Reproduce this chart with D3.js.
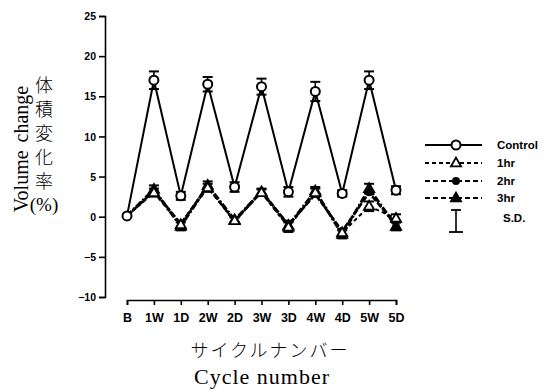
<!DOCTYPE html>
<html>
<head>
<meta charset="utf-8">
<script src="https://cdn.jsdelivr.net/npm/d3@7"></script>
<style>
    body { margin: 0; background: #fff; }
    svg { display: block; }
    .tick text { font-family: "Liberation Sans", Arial, sans-serif; font-weight: bold; }
</style>
</head>
<body>
<svg id="chart" width="545" height="392"></svg>
<script>
// cycle labels on the x axis
var cycles = ["B", "1W", "1D", "2W", "2D", "3W", "3D", "4W", "4D", "5W", "5D"];
var yTicks = [25, 20, 15, 10, 5, 0, -5, -10];

// volume change (%)
var control = [0.1, 17.0, 2.6, 16.5, 3.7, 16.2, 3.1, 15.6, 2.9, 17.0, 3.3];
var controlSD = [0, 1.1, 0.5, 0.9, 0.6, 1.0, 0.6, 1.2, 0.4, 1.1, 0.5];
var oneHr = [0.1, 3.0, -1.0, 3.6, -0.5, 3.0, -1.3, 3.0, -2.0, 1.3, -0.2];
var twoHr = [0.1, 3.2, -0.9, 3.8, -0.6, 3.2, -1.0, 2.8, -1.8, 3.0, -1.0];
var threeHr = [0.1, 3.4, -1.2, 3.9, -0.4, 3.1, -1.1, 3.2, -2.2, 3.5, -1.2];
var treatSD = [0, 0.5, 0.5, 0.5, 0.4, 0.4, 0.6, 0.5, 0.5, 0.6, 0.5];

var legendLabels = ["Control", "1hr", "2hr", "3hr", "S.D."];

var svg = d3.select("#chart");

var x = d3.scalePoint().domain(cycles).range([127, 396]);
var y = d3.scaleLinear().domain([-10, 25]).range([297, 16]);

// y axis
var yAxis = svg.append("g")
    .attr("transform", "translate(105,0)")
    .call(d3.axisLeft(y).tickValues(yTicks).tickSize(6).tickPadding(3));
yAxis.select(".domain").attr("stroke-width", 1.6);
yAxis.selectAll(".tick line").attr("stroke-width", 1.6);
yAxis.selectAll(".tick text").attr("font-size", 10.5).attr("dy", "0.35em");

// x axis
var xAxis = svg.append("g")
    .attr("transform", "translate(0,300)")
    .call(d3.axisBottom(x).tickSize(5).tickPadding(8));
xAxis.select(".domain").attr("stroke-width", 1.6);
xAxis.selectAll(".tick line").attr("stroke-width", 1.6);
xAxis.selectAll(".tick text").attr("font-size", 12.5);

var line = d3.line()
    .x((d, i) => x(cycles[i]))
    .y(d => y(d));

function triangle(g, cx, cy, filled) {
    g.append("path")
        .attr("d", d3.symbol().type(d3.symbolTriangle).size(45)())
        .attr("transform", "translate(" + cx + "," + (cy + 0.5) + ")")
        .attr("fill", filled ? "#000" : "#fff")
        .attr("stroke", "#000")
        .attr("stroke-width", 1.8);
}

function errorBars(g, values, sds) {
    values.forEach((v, i) => {
        if (!sds[i]) return;
        var cx = x(cycles[i]);
        g.append("line")
            .attr("x1", cx).attr("x2", cx)
            .attr("y1", y(v - sds[i])).attr("y2", y(v + sds[i]))
            .attr("stroke", "#000").attr("stroke-width", 1.6);
        [v - sds[i], v + sds[i]].forEach(e => {
            g.append("line")
                .attr("x1", cx - 5).attr("x2", cx + 5)
                .attr("y1", y(e)).attr("y2", y(e))
                .attr("stroke", "#000").attr("stroke-width", 2);
        });
    });
}

var plot = svg.append("g");

// treatment groups
errorBars(plot, threeHr, treatSD);
errorBars(plot, oneHr, treatSD);

plot.append("path").datum(threeHr)
    .attr("d", line).attr("fill", "none")
    .attr("stroke", "#000").attr("stroke-width", 3)
    .attr("stroke-dasharray", "7,2,2,2");
plot.append("path").datum(twoHr)
    .attr("d", line).attr("fill", "none")
    .attr("stroke", "#000").attr("stroke-width", 2.6)
    .attr("stroke-dasharray", "6,2");
plot.append("path").datum(oneHr)
    .attr("d", line).attr("fill", "none")
    .attr("stroke", "#000").attr("stroke-width", 2)
    .attr("stroke-dasharray", "4,3");

twoHr.forEach((v, i) => {
    if (i === 0) return;
    plot.append("circle")
        .attr("cx", x(cycles[i])).attr("cy", y(v))
        .attr("r", 3.5).attr("fill", "#000");
});
threeHr.forEach((v, i) => { if (i) triangle(plot, x(cycles[i]), y(v), true); });
oneHr.forEach((v, i) => { if (i) triangle(plot, x(cycles[i]), y(v), false); });

// control
errorBars(plot, control, controlSD);
plot.append("path").datum(control)
    .attr("d", line).attr("fill", "none")
    .attr("stroke", "#000").attr("stroke-width", 2);
plot.selectAll(".ctrl")
    .data(control)
    .enter()
    .append("circle")
    .attr("class", "ctrl")
    .attr("cx", (d, i) => x(cycles[i]))
    .attr("cy", d => y(d))
    .attr("r", 4.5)
    .attr("fill", "#fff")
    .attr("stroke", "#000")
    .attr("stroke-width", 2);

// legend
var legend = svg.append("g");
var legY = [145, 163, 181, 198];
var legDash = [null, "4,3", "5,3", "5,3"];
legY.forEach((ly, i) => {
    legend.append("line")
        .attr("x1", 425).attr("x2", 482)
        .attr("y1", ly).attr("y2", ly)
        .attr("stroke", "#000").attr("stroke-width", 1.8)
        .attr("stroke-dasharray", legDash[i]);
    if (i === 0) {
        legend.append("circle").attr("cx", 456).attr("cy", ly).attr("r", 4.5)
            .attr("fill", "#fff").attr("stroke", "#000").attr("stroke-width", 2);
    } else if (i === 1) {
        triangle(legend, 456, ly, false);
    } else if (i === 2) {
        legend.append("circle").attr("cx", 456).attr("cy", ly).attr("r", 4).attr("fill", "#000");
    } else {
        triangle(legend, 456, ly, true);
    }
    legend.append("text")
        .attr("x", 497).attr("y", ly + 4)
        .attr("font-family", "Liberation Sans, Arial, sans-serif")
        .attr("font-weight", "bold").attr("font-size", 11.5)
        .text(legendLabels[i]);
});
legend.append("line").attr("x1", 456).attr("x2", 456).attr("y1", 210).attr("y2", 232)
    .attr("stroke", "#000").attr("stroke-width", 1.6);
legend.append("line").attr("x1", 451).attr("x2", 461).attr("y1", 210).attr("y2", 210)
    .attr("stroke", "#000").attr("stroke-width", 1.8);
legend.append("line").attr("x1", 449).attr("x2", 463).attr("y1", 232).attr("y2", 232)
    .attr("stroke", "#000").attr("stroke-width", 1.8);
legend.append("text")
    .attr("x", 503).attr("y", 222)
    .attr("font-family", "Liberation Sans, Arial, sans-serif")
    .attr("font-weight", "bold").attr("font-size", 11.5)
    .text(legendLabels[4]);

// y title: English rotated, Japanese vertical
svg.append("text")
    .attr("transform", "translate(28,149) rotate(-90)")
    .attr("text-anchor", "middle")
    .attr("font-family", "Liberation Serif, Times New Roman, serif")
    .attr("font-size", 20)
    .attr("word-spacing", 3)
    .text("Volume change");

svg.append("text")
    .attr("x", 44).attr("y", 76)
    .attr("font-family", "Noto Sans CJK JP")
    .attr("font-weight", 300)
    .attr("font-size", 18)
    .attr("letter-spacing", 6)
    .style("writing-mode", "vertical-rl")
    .text("体積変化率");
svg.append("text")
    .attr("x", 44).attr("y", 211)
    .attr("text-anchor", "middle")
    .attr("font-family", "Liberation Serif, serif")
    .attr("font-size", 19)
    .text("(%)");

// x titles
svg.append("text")
    .attr("x", 270).attr("y", 357)
    .attr("text-anchor", "middle")
    .attr("font-family", "Noto Sans CJK JP")
    .attr("font-weight", 300)
    .attr("font-size", 18)
    .attr("letter-spacing", 2)
    .text("サイクルナンバー");
svg.append("text")
    .attr("x", 262).attr("y", 384)
    .attr("text-anchor", "middle")
    .attr("font-family", "Liberation Serif, Times New Roman, serif")
    .attr("font-size", 22)
    .attr("letter-spacing", 1)
    .text("Cycle number");
</script>
</body>
</html>
